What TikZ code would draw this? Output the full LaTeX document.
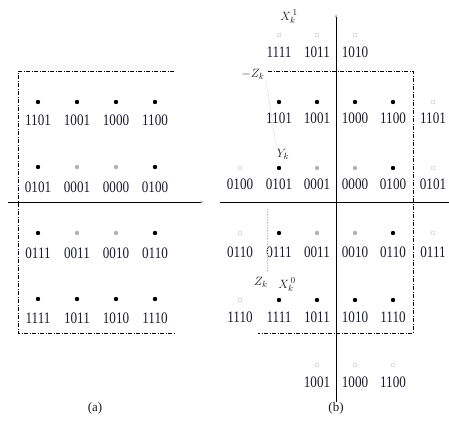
\documentclass[tikz,border=0pt]{standalone}
\usepackage{fontspec}
\setmainfont{Liberation Serif}
\usetikzlibrary{arrows.meta}
\definecolor{ink}{RGB}{25,25,45}
\newcommand\cpt[6]{%
  \node[#1] (#2d) at (#3,#4) {};
  \node[lbl] (#2l) at (#3,#5) {\scalebox{0.82}[1]{#6}};}
\begin{document}
\begin{tikzpicture}[x=1pt,y=-1pt,
 dotb/.style={circle,fill=black,inner sep=0pt,minimum size=4.4pt},
 dotg/.style={circle,fill=gray!60,inner sep=0pt,minimum size=4.4pt},
 dotc/.style={circle,draw=gray!45,line width=0.5pt,inner sep=0pt,minimum size=4pt},
 lbl/.style={inner sep=0pt,text=ink,font=\fontsize{16}{16}\selectfont},
 mlbl/.style={inner sep=0pt,text=ink,font=\fontsize{13}{13}\selectfont},
 frame/.style={line width=0.9pt,dash pattern=on 4pt off 1.5pt on 1pt off 1.5pt},
 axis/.style={line width=0.8pt,-{Stealth[length=4pt,width=3pt,gray!60]}},
 guide/.style={gray!45,densely dotted,line width=0.6pt}]
\useasboundingbox (0,0) rectangle (449,434);
% ---------- panel (a)
\coordinate (atl) at (18,71); \coordinate (atr) at (174,71);
\coordinate (abl) at (18,333); \coordinate (abr) at (174,333);
\draw[frame] (atr) -- (atl) -- (abl) -- (abr);
\coordinate (ax0) at (8,202); \coordinate (ax1) at (204,202);
\draw[axis] (ax0) -- (ax1);
\cpt{dotb}{a11}{38}{102}{120}{1101}
\cpt{dotb}{a12}{77}{102}{120}{1001}
\cpt{dotb}{a13}{116}{102}{120}{1000}
\cpt{dotb}{a14}{155}{102}{120}{1100}
\cpt{dotb}{a21}{38}{167}{187}{0101}
\cpt{dotg}{a22}{77}{167}{187}{0001}
\cpt{dotg}{a23}{116}{167}{187}{0000}
\cpt{dotb}{a24}{155}{167}{187}{0100}
\cpt{dotb}{a31}{38}{233}{253}{0111}
\cpt{dotg}{a32}{77}{233}{253}{0011}
\cpt{dotg}{a33}{116}{233}{253}{0010}
\cpt{dotb}{a34}{155}{233}{253}{0110}
\cpt{dotb}{a41}{38}{299}{318}{1111}
\cpt{dotb}{a42}{77}{299}{318}{1011}
\cpt{dotb}{a43}{116}{299}{318}{1010}
\cpt{dotb}{a44}{155}{299}{318}{1110}
\node[mlbl] (capa) at (95,408) {(a)};
% ---------- panel (b)
\coordinate (btl) at (268,71); \coordinate (btr) at (413,71);
\coordinate (bbr) at (413,333); \coordinate (bbl) at (258,333);
\draw[frame] (btl) -- (btr) -- (bbr) -- (bbl);
\coordinate (bh0) at (220,202); \coordinate (bh1) at (449,202);
\draw[line width=0.8pt] (bh0) -- (bh1);
\coordinate (bv0) at (336,402); \coordinate (bv1) at (336,14);
\draw[axis] (bv0) -- (bv1);
% top extra row
\cpt{dotc}{b01}{279}{35}{52}{1111}
\cpt{dotc}{b02}{317}{35}{52}{1011}
\cpt{dotc}{b03}{355}{35}{52}{1010}
% row 1
\cpt{dotb}{b11}{279}{102}{118}{1101}
\cpt{dotb}{b12}{317}{102}{118}{1001}
\cpt{dotb}{b13}{355}{102}{118}{1000}
\cpt{dotb}{b14}{393}{102}{118}{1100}
\cpt{dotc}{b15}{433}{102}{118}{1101}
% row 2
\cpt{dotc}{b20}{240}{168}{184}{0100}
\cpt{dotb}{b21}{279}{168}{184}{0101}
\cpt{dotg}{b22}{317}{168}{184}{0001}
\cpt{dotg}{b23}{355}{168}{184}{0000}
\cpt{dotb}{b24}{393}{168}{184}{0100}
\cpt{dotc}{b25}{433}{168}{184}{0101}
% row 3
\cpt{dotc}{b30}{240}{233}{252}{0110}
\cpt{dotb}{b31}{279}{233}{252}{0111}
\cpt{dotg}{b32}{317}{233}{252}{0011}
\cpt{dotg}{b33}{355}{233}{252}{0010}
\cpt{dotb}{b34}{393}{233}{252}{0110}
\cpt{dotc}{b35}{433}{233}{252}{0111}
% row 4
\cpt{dotc}{b40}{240}{300}{317}{1110}
\cpt{dotb}{b41}{279}{300}{317}{1111}
\cpt{dotb}{b42}{317}{300}{317}{1011}
\cpt{dotb}{b43}{355}{300}{317}{1010}
\cpt{dotb}{b44}{393}{300}{317}{1110}
% bottom extra row
\cpt{dotc}{b52}{317}{365}{382}{1001}
\cpt{dotc}{b53}{355}{365}{382}{1000}
\cpt{dotc}{b54}{393}{365}{382}{1100}
% math labels
\node[mlbl] (x1) at (289,17) {$X_k^{\,1}$};
\node[mlbl] (mz) at (253,74) {$-Z_k$};
\node[mlbl] (yk) at (283,154) {$Y_k$};
\node[mlbl] (zk) at (261,282) {$Z_k$};
\node[mlbl] (x0) at (287,285) {$X_k^{\,0}$};
% guides
\coordinate (g1) at (266,81); \coordinate (g2) at (276,145);
\coordinate (g3) at (267,209); \coordinate (g4) at (267,273);
\draw[guide] (g1) -- (g2);
\draw[guide] (g3) -- (g4);
\node[mlbl] (capb) at (336,408) {(b)};
\end{tikzpicture}
\end{document}
